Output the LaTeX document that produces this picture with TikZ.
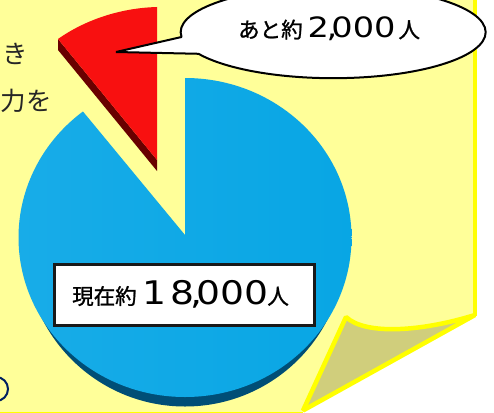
\documentclass[tikz,border=0pt]{standalone}
\usepackage{fontspec}
\newfontfamily\jp{Noto Sans CJK JP}
\newfontfamily\jpb[FakeBold=1.2]{Noto Sans CJK JP}
\newfontfamily\numfont{DejaVu Sans}
\definecolor{paperfill}{RGB}{255,255,153}
\definecolor{paperedge}{RGB}{255,255,0}
\definecolor{foldfill}{RGB}{208,206,124}
\definecolor{pieblue}{RGB}{8,166,228}
\definecolor{pieblue2}{RGB}{24,172,232}
\definecolor{piedark}{RGB}{0,78,118}
\definecolor{piered}{RGB}{248,16,16}
\definecolor{reddark}{RGB}{105,0,0}
\definecolor{navyring}{RGB}{0,32,96}
\tikzset{
  paperline/.style={draw=paperedge,line width=4.5pt,line join=bevel},
  bigtext/.style={font=\jp\fontsize{25.5}{30}\selectfont,inner sep=0pt,text=black!85,anchor=west},
  valtext/.style={font=\jpb\fontsize{21.5}{24}\selectfont,text=black,inner sep=0pt,anchor=west},
  labelbox/.style={draw=black!90,line width=2.2pt,fill=white,minimum width=260pt,minimum height=61pt,inner sep=0pt},
  calloutline/.style={draw=black,line width=2pt,fill=white,line join=bevel}
}
\newcommand{\widenum}[3]{\scalebox{#1}[1]{\numfont\fontsize{#2}{#2}\selectfont #3}}
\begin{document}
\begin{tikzpicture}[x=1pt,y=1pt,yscale=-1]
\useasboundingbox (0,0) rectangle (494,412);
\clip (0,0) rectangle (494,412);
% sheet
\fill[paperfill] (-8,-8) -- (475,-8) -- (475,315)
  .. controls (420,332) and (365,335) .. (346,317) -- (303,412) -- (-8,412) -- cycle;
\draw[paperedge,line width=4.5pt] (475,-8) -- (475,316);
\draw[paperedge,line width=1pt] (-8,412) -- (303,412);
\path[fill=foldfill,paperline] (346,317) .. controls (365,335) and (420,332) .. (475,315) -- (303,410.5) -- cycle;
% text at the left edge
\node[bigtext] (t1) at (2,54) {き};
\node[bigtext] (t2) at (0.5,101) {力を};
\draw[navyring,line width=2pt] (-4,389) circle[radius=12];
% blue pie
\begin{scope}
\clip (0,300) rectangle (494,412);
\fill[piedark] (185,247) ellipse[x radius=160,y radius=159.5];
\end{scope}
\shade[left color=pieblue2,right color=pieblue] (185,235) -- (185,78) arc[start angle=-90,end angle=232.2,x radius=166.5,y radius=159.5] -- cycle;
% red slice
\fill[reddark] (58,39) -- (58,50) -- (157,171) -- (157,160) -- cycle;
\fill[piered] (157,160) -- (58,39) .. controls (85,20) and (120,8) .. (157,7) -- cycle;
% callout
\coordinate (tip) at (116,52);
\path[calloutline] (tip) -- (181.5,37) arc[start angle=174,end angle=512,x radius=152.5,y radius=46] -- cycle;
\node[valtext] (calltext) at (238,29) {あと約\hspace{5pt}\widenum{1.2}{28}{2\kern-2pt,\kern-5pt000}\hspace{3pt}人};
% label
\node[labelbox] (curbox) at (184.5,295) {};
\node[valtext] (curtext) at (72,294) {現在約\hspace{6pt}\widenum{1.16}{32.5}{1\kern3pt8\kern-3pt,\kern-5pt000}\hspace{-1.5pt}人};
\end{tikzpicture}
\end{document}
